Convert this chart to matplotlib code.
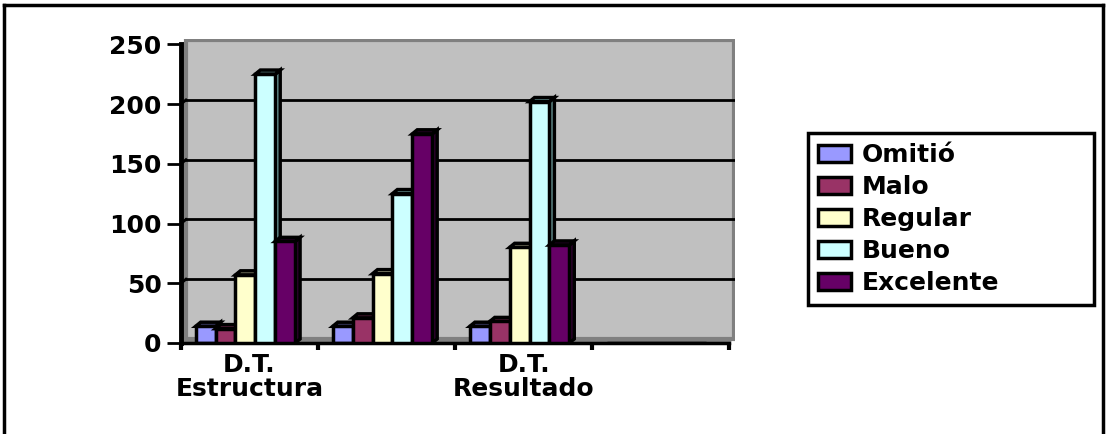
import matplotlib.pyplot as plt
import numpy as np
from matplotlib.patches import Polygon, Rectangle
from matplotlib.lines import Line2D

plt.rcParams['font.family'] = ['DejaVu Sans']
plt.rcParams['font.weight'] = 'bold'

# datos
categorias = ["D.T.\nEstructura", "", "D.T.\nResultado", ""]
series = ["Omitió", "Malo", "Regular", "Bueno", "Excelente"]
omitio = [14, 14, 14, 0]
malo = [12, 21, 18, 0]
regular = [57, 58, 80, 0]
bueno = [225, 125, 202, 0]
excelente = [85, 175, 82, 0]
valores = [omitio, malo, regular, bueno, excelente]

colores = ['#9999FF', '#993366', '#FFFFCC', '#CCFFFF', '#660066']
laterales = ['#6666B0', '#662244', '#B0B090', '#70A0A0', '#330033']

fig = plt.figure(figsize=(11.06, 4.34), dpi=100)
ax = fig.add_axes([181 / 1106, 91 / 434, 554 / 1106, 304 / 434])

# profundidad del efecto 3D
dx, dy = 0.036, 3.4
n_cat = len(categorias)

# pared del fondo, lateral y suelo
ax.add_patch(Polygon([(0, 0), (dx, dy), (dx, 250 + dy), (0, 250)],
                     closed=True, facecolor='#808080', edgecolor='none', zorder=0))
ax.add_patch(Polygon([(0, 0), (n_cat, 0), (n_cat + dx, dy), (dx, dy)],
                     closed=True, facecolor='#808080', edgecolor='none', zorder=0))
ax.add_patch(Rectangle((dx, dy), n_cat, 250, facecolor='#C0C0C0',
                       edgecolor='#808080', linewidth=3, zorder=0))
for v in range(50, 250, 50):
    ax.plot([dx, n_cat + dx], [v + dy, v + dy], color='black', lw=2, zorder=1)
    ax.plot([0, dx], [v, v + dy], color='black', lw=2, zorder=1)

ancho = 0.145
x = np.arange(n_cat) + 0.5 - 0.03
for i, (nombre, vals) in enumerate(zip(series, valores)):
    pos = x + (i - 2) * ancho
    for xc, v in zip(pos, vals):
        if v <= 0:
            continue
        x0, x1 = xc - ancho / 2, xc + ancho / 2
        # cara lateral y tapa
        ax.add_patch(Polygon([(x1, 0), (x1 + dx, dy), (x1 + dx, v + dy), (x1, v)],
                             closed=True, facecolor=laterales[i], edgecolor='black',
                             linewidth=2.5, zorder=2 + i))
        ax.add_patch(Polygon([(x0, v), (x0 + dx, v + dy), (x1 + dx, v + dy), (x1, v)],
                             closed=True, facecolor=laterales[i], edgecolor='black',
                             linewidth=2.5, zorder=2 + i))
    ax.bar(pos, vals, width=ancho, color=colores[i], edgecolor='black',
           linewidth=2.5, label=nombre, zorder=2.5 + i)

ax.set_xlim(0, n_cat + dx + 0.005)
ax.set_ylim(0, 250 + dy + 1)
ax.set_facecolor('white')
for s in ['top', 'right']:
    ax.spines[s].set_visible(False)
ax.spines['left'].set_linewidth(3.5)
ax.spines['left'].set_bounds(0, 250)
ax.spines['bottom'].set_linewidth(2.5)
ax.spines['bottom'].set_bounds(0, n_cat)

ax.set_yticks(np.arange(0, 251, 50))
ax.tick_params(axis='y', labelsize=18, length=10, width=2, pad=4)
ax.set_xticks(np.arange(n_cat + 1), minor=False)
ax.set_xticklabels([])
ax.tick_params(axis='x', length=5, width=3)
ax.set_xticks(np.arange(n_cat) + 0.5, minor=True)
ax.set_xticklabels(categorias, minor=True, fontsize=18, linespacing=1.0)
ax.tick_params(axis='x', which='minor', length=0, pad=7)
for t in ax.get_yticklabels() + ax.get_xticklabels(minor=True):
    t.set_fontweight('bold')

leg = ax.legend(loc='upper left', bbox_to_anchor=(808 / 1106, 1 - 133 / 434, 286 / 1106, 0.0),
                bbox_transform=fig.transFigure, mode='expand',
                fontsize=18, frameon=True, fancybox=False, edgecolor='black', framealpha=1,
                handlelength=1.3, handleheight=0.7, handletextpad=0.45,
                labelspacing=0.32, borderpad=0.4, borderaxespad=0)
leg.get_frame().set_linewidth(2.5)
for t in leg.get_texts():
    t.set_fontweight('bold')
for h in leg.legend_handles:
    h.set_linewidth(2.5)

# marco exterior
fig.add_artist(Line2D([4 / 1106, 4 / 1106], [0, 1 - 5 / 434], transform=fig.transFigure, color='black', lw=2.5))
fig.add_artist(Line2D([4 / 1106, 1103 / 1106], [1 - 5 / 434, 1 - 5 / 434], transform=fig.transFigure, color='black', lw=2.5))
fig.add_artist(Line2D([1103 / 1106, 1103 / 1106], [0, 1 - 5 / 434], transform=fig.transFigure, color='black', lw=2.5))

fig.savefig('out.png', dpi=100)
